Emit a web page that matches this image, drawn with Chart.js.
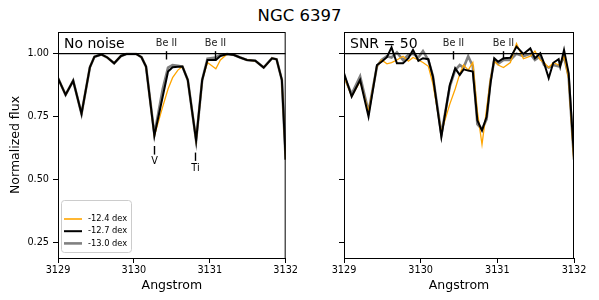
<!DOCTYPE html>
<html>
<head>
<meta charset="utf-8">
<script src="https://cdn.jsdelivr.net/npm/chart.js@4.4.1/dist/chart.umd.min.js"></script>
<style>
  body { margin: 0; background: #fff; }
  #wrap { position: relative; width: 599px; height: 300px; font-family: "DejaVu Sans", sans-serif; }
  #title { position: absolute; left: 0; top: 6px; width: 599px; text-align: center; font-size: 16.5px; color: #000; }
  #c1 { position: absolute; left: 0; top: 0; }
  #c2 { position: absolute; left: 300px; top: 0; }
</style>
</head>
<body>
<div id="wrap">
  <div id="title">NGC 6397</div>
  <canvas id="c1" width="300" height="300"></canvas>
  <canvas id="c2" width="299" height="300"></canvas>
</div>
<script>
(function () {
  "use strict";

  // synthetic spectra, no noise
  const modelLam = [3129.00, 3129.10, 3129.20, 3129.31, 3129.42, 3129.48, 3129.57, 3129.65, 3129.74, 3129.83,
    3129.90, 3130.03, 3130.10, 3130.16, 3130.27, 3130.38, 3130.45, 3130.51, 3130.58, 3130.64,
    3130.71, 3130.82, 3130.90, 3130.97, 3131.08, 3131.14, 3131.23, 3131.32, 3131.40, 3131.49,
    3131.60, 3131.71, 3131.82, 3131.88, 3131.95, 3132.00];
  const model124 = [0.903, 0.837, 0.893, 0.762, 0.946, 0.988, 0.997, 0.985, 0.962, 0.991,
    0.999, 0.999, 0.986, 0.949, 0.675, 0.790, 0.860, 0.905, 0.935, 0.949,
    0.896, 0.656, 0.896, 0.965, 0.940, 0.975, 0.999, 0.995, 0.985, 0.975,
    0.972, 0.945, 0.982, 0.978, 0.896, 0.580];
  const model127 = [0.903, 0.837, 0.893, 0.762, 0.946, 0.988, 0.997, 0.985, 0.962, 0.991,
    0.999, 0.999, 0.986, 0.949, 0.675, 0.830, 0.929, 0.946, 0.948, 0.949,
    0.896, 0.656, 0.896, 0.975, 0.975, 0.991, 0.999, 0.995, 0.985, 0.975,
    0.972, 0.945, 0.982, 0.978, 0.896, 0.580];
  const model130 = [0.903, 0.837, 0.893, 0.762, 0.946, 0.988, 0.997, 0.985, 0.962, 0.991,
    0.999, 0.999, 0.986, 0.949, 0.680, 0.860, 0.945, 0.955, 0.952, 0.949,
    0.896, 0.656, 0.896, 0.980, 0.985, 0.995, 0.999, 0.995, 0.985, 0.975,
    0.972, 0.945, 0.982, 0.978, 0.896, 0.580];

  // same spectra with SNR = 50
  const noisyLam = [3129.00, 3129.10, 3129.21, 3129.32, 3129.43, 3129.49, 3129.56, 3129.62, 3129.69, 3129.77,
    3129.84, 3129.90, 3129.97, 3130.03, 3130.10, 3130.16, 3130.27, 3130.38, 3130.45, 3130.51,
    3130.56, 3130.62, 3130.68, 3130.74, 3130.80, 3130.86, 3130.91, 3130.96, 3131.01, 3131.08,
    3131.17, 3131.25, 3131.34, 3131.43, 3131.49, 3131.56, 3131.61, 3131.67, 3131.73, 3131.80,
    3131.82, 3131.87, 3131.93, 3132.00];
  const noisy124 = [0.910, 0.830, 0.890, 0.770, 0.950, 0.975, 0.960, 0.965, 0.975, 0.990,
    0.970, 0.985, 0.975, 0.965, 0.950, 0.880, 0.690, 0.800, 0.860, 0.920,
    0.955, 0.935, 0.965, 0.770, 0.640, 0.780, 0.900, 0.970, 0.955, 0.945,
    0.965, 1.040, 0.980, 0.990, 1.010, 0.975, 0.965, 0.945, 0.965, 0.955,
    0.960, 0.990, 0.900, 0.560];
  const noisy127 = [0.923, 0.830, 0.896, 0.751, 0.955, 0.968, 0.986, 1.025, 0.962, 0.962,
    0.982, 1.015, 0.972, 0.982, 0.978, 0.909, 0.670, 0.876, 0.942, 0.916,
    0.938, 0.933, 0.929, 0.735, 0.695, 0.750, 0.880, 0.982, 0.968, 0.982,
    0.984, 1.028, 0.999, 1.021, 0.982, 1.002, 0.962, 0.903, 0.964, 0.978,
    0.949, 1.015, 0.923, 0.590];
  const noisy130 = [0.910, 0.840, 0.910, 0.770, 0.950, 0.975, 0.990, 0.985, 1.005, 0.975,
    0.995, 1.000, 0.985, 1.010, 0.975, 0.910, 0.680, 0.870, 0.935, 0.955,
    0.945, 0.990, 0.950, 0.720, 0.700, 0.740, 0.890, 0.975, 0.960, 0.975,
    0.975, 1.000, 0.990, 1.000, 0.975, 0.990, 0.955, 0.945, 0.955, 0.950,
    0.955, 0.990, 0.910, 0.580];

  const seriesLabels = ["-12.4 dex", "-12.7 dex", "-13.0 dex"];
  const seriesColors = ["#ffa500", "#000000", "#808080"];
  const yTicks = [0.25, 0.5, 0.75, 1.0];
  const xTicks = [3129, 3130, 3131, 3132];
  const beLines = [3130.42, 3131.07];
  const blendNames = ["V", "Ti"];
  const blendLines = [3130.27, 3130.81];

  const font = '"DejaVu Sans", sans-serif';

  function pts(lam, flux) {
    return lam.map((l, i) => ({ x: l, y: flux[i] }));
  }

  function makeSets(lam, a, b, c) {
    const widths = [1.3, 2, 2.6];
    const order = [1, 0, 2];
    return [a, b, c].map((d, i) => ({
      label: seriesLabels[i],
      data: pts(lam, d),
      borderColor: seriesColors[i],
      borderWidth: widths[i],
      order: order[i],
      showLine: true,
      pointRadius: 0,
      tension: 0,
    })).concat([{
      label: "continuum",
      data: [{ x: xTicks[0], y: 1 }, { x: xTicks[xTicks.length - 1], y: 1 }],
      borderColor: "#000",
      borderWidth: 1.3,
      order: -1,
      showLine: true,
      pointRadius: 0,
    }]);
  }

  // frame, panel text, line markers and legend
  const overlay = {
    id: "overlay",
    afterDatasetsDraw(chart, args, opts) {
      const { ctx, chartArea: a, scales: { x, y } } = chart;
      ctx.save();
      ctx.strokeStyle = "#000";
      ctx.lineWidth = 1;
      ctx.strokeRect(a.left + 0.5, a.top + 0.5, a.right - a.left - 1, a.bottom - a.top);

      ctx.fillStyle = "#000";
      ctx.font = "14px " + font;
      ctx.textAlign = "left";
      ctx.textBaseline = "middle";
      ctx.fillText(opts.label, a.left + 6, a.top + 12);

      // Be II
      ctx.font = "9.7px " + font;
      ctx.textAlign = "center";
      ctx.lineWidth = 1.4;
      beLines.forEach((wl) => {
        const px = Math.round(x.getPixelForValue(wl)) + 0.5;
        ctx.beginPath();
        ctx.moveTo(px, y.getPixelForValue(1.01));
        ctx.lineTo(px, y.getPixelForValue(0.977));
        ctx.stroke();
        ctx.fillStyle = "#222";
        ctx.fillText("Be II", px, y.getPixelForValue(1.041));
      });

      if (opts.blends) {
        const tick = [[0.634, 0.600, 0.572], [0.608, 0.575, 0.546]];
        blendLines.forEach((wl, i) => {
          const px = Math.round(x.getPixelForValue(wl)) + 0.5;
          ctx.beginPath();
          ctx.moveTo(px, y.getPixelForValue(tick[i][0]));
          ctx.lineTo(px, y.getPixelForValue(tick[i][1]));
          ctx.stroke();
          ctx.fillStyle = "#000";
          ctx.fillText(blendNames[i], px, y.getPixelForValue(tick[i][2]));
        });
      }

      if (opts.legend) {
        const lx = a.left + 3, ly = 200, lw = 70, lh = 52;
        ctx.beginPath();
        ctx.roundRect(lx + 0.5, ly + 0.5, lw, lh, 3);
        ctx.fillStyle = "rgba(255,255,255,0.8)";
        ctx.fill();
        ctx.strokeStyle = "#cccccc";
        ctx.lineWidth = 1;
        ctx.stroke();
        ctx.font = "8.3px " + font;
        ctx.textAlign = "left";
        chart.data.datasets.slice(0, 3).forEach((ds, i) => {
          const ry = ly + 19 + i * 12.2;
          ctx.strokeStyle = ds.borderColor;
          ctx.lineWidth = Math.max(ds.borderWidth, 1.6);
          ctx.beginPath();
          ctx.moveTo(lx + 3, ry);
          ctx.lineTo(lx + 21, ry);
          ctx.stroke();
          ctx.fillStyle = "#000";
          ctx.fillText(ds.label, lx + 27, ry);
        });
      }
      ctx.restore();
    },
  };

  function makeChart(id, sets, opts) {
    return new Chart(document.getElementById(id), {
      type: "scatter",
      data: { datasets: sets },
      options: {
        responsive: false,
        animation: false,
        layout: { padding: { top: 32, right: opts.padRight, left: 0, bottom: 0 } },
        plugins: {
          legend: { display: false },
          tooltip: { enabled: false },
          overlay: opts,
        },
        scales: {
          x: {
            type: "linear",
            min: 3129,
            max: 3132,
            afterBuildTicks: (s) => { s.ticks = xTicks.map((v) => ({ value: v })); },
            afterFit: (s) => { s.height = 42; },
            ticks: { color: "#000", font: { family: font, size: 9.7 }, padding: 2, maxRotation: 0,
              callback: (v) => String(v) },
            grid: { drawOnChartArea: false, tickLength: 5, tickColor: "#000", tickWidth: 1 },
            border: { color: "#000", width: 1 },
            title: { display: true, text: "Angstrom", color: "#000",
              font: { family: font, size: 12.5 }, padding: { top: 0, bottom: 6.5 } },
          },
          y: {
            min: 0.19,
            max: 1.086,
            afterBuildTicks: (s) => { s.ticks = yTicks.map((v) => ({ value: v })); },
            afterFit: (s) => { s.width = opts.yWidth; },
            ticks: { display: opts.yLabels, color: "#000", font: { family: font, size: 9.7 }, padding: 4,
              callback: (v) => v.toFixed(2) },
            grid: { drawOnChartArea: false, tickLength: 5, tickColor: "#000", tickWidth: 1 },
            border: { color: "#000", width: 1 },
            title: { display: opts.yLabels, text: "Normalized flux", color: "#000",
              font: { family: font, size: 12.5 }, padding: { top: 8.5, bottom: 0 } },
          },
        },
      },
      plugins: [overlay],
    });
  }

  makeChart("c1", makeSets(modelLam, model124, model127, model130),
    { label: "No noise", legend: true, blends: true, yLabels: true, yWidth: 58, padRight: 13 });
  makeChart("c2", makeSets(noisyLam, noisy124, noisy127, noisy130),
    { label: "SNR = 50", legend: false, blends: false, yLabels: false, yWidth: 44, padRight: 25 });
})();
</script>
</body>
</html>
